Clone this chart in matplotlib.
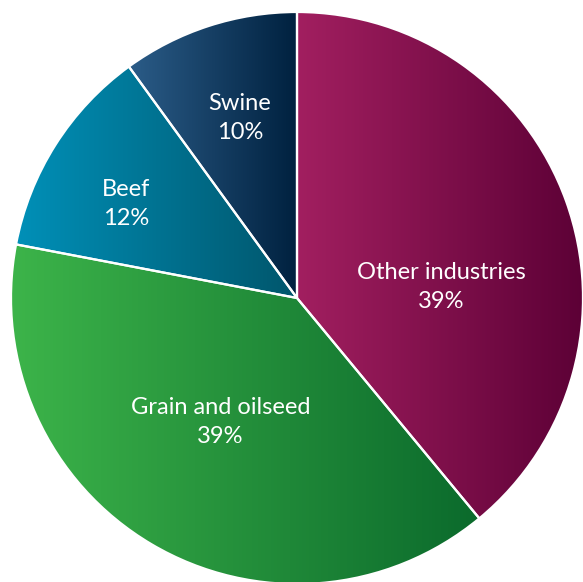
import numpy as np
import matplotlib
matplotlib.use("Agg")
import matplotlib.pyplot as plt
from matplotlib.colors import LinearSegmentedColormap

labels = ["Other industries", "Grain and oilseed", "Beef", "Swine"]
shares = [39, 39, 12, 10]
# gradient end colours (left -> right) per wedge
grad_left = ["#a21f60", "#3db54a", "#0090b8", "#2b5c88"]
grad_right = ["#5b0035", "#0b6a2c", "#00566c", "#00213f"]
# label centres, in units of the radius
label_pos = [(0.505, 0.038), (-0.267, -0.433), (-0.598, 0.329), (-0.199, 0.630)]

fig = plt.figure(figsize=(5.83, 5.82), dpi=100)
ax = fig.add_axes([0, 0, 1, 1])
R = 286.0
cx, cy = 297.0, 298.0

wedges, _ = ax.pie(shares, startangle=90, counterclock=False, radius=1.0,
                   wedgeprops=dict(linewidth=1.6, edgecolor="white"),
                   frame=True)
ax.set_aspect("auto")
ax.axis("off")

for w, cl, cr in zip(wedges, grad_left, grad_right):
    verts = w.get_path().vertices
    x0, x1 = verts[:, 0].min(), verts[:, 0].max()
    y0, y1 = verts[:, 1].min(), verts[:, 1].max()
    cmap = LinearSegmentedColormap.from_list("g", [cl, cr])
    grad = np.linspace(0, 1, 256).reshape(1, -1)
    im = ax.imshow(grad, cmap=cmap, extent=[x0, x1, y0, y1], aspect="auto",
                   interpolation="bilinear", zorder=w.get_zorder() - 0.1)
    im.set_clip_path(w)
    w.set_facecolor("none")

ax.set_xlim(-cx / R, (583 - cx) / R)
ax.set_ylim(-(582 - cy) / R, cy / R)

for (lx, ly), name, v in zip(label_pos, labels, shares):
    ax.text(lx, ly, f"{name}\n{v}%", ha="center", va="center", color="white",
            fontsize=17, family="Lato", linespacing=1.45, zorder=5)

fig.savefig("out.png", dpi=100)
